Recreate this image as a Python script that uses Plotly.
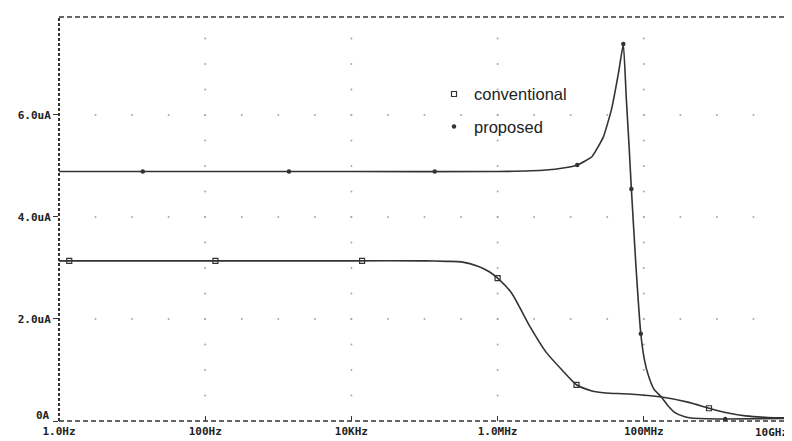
import numpy as np
import plotly.graph_objects as go

# ---- data (frequency in Hz, current in uA) ----
conv_f = [1, 100, 1e4, 1e5, 2e5, 3.2e5, 5.5e5, 7.6e5, 1e6, 1.55e6, 2.8e6, 4.6e6, 7.6e6,
          1.2e7, 1.95e7, 3e7, 6.3e7, 1.75e8, 4e8, 7.8e8, 1.26e9, 2.45e9, 5e9, 1e10]
conv_i = [3.14, 3.14, 3.14, 3.14, 3.13, 3.12, 3.03, 2.93, 2.80, 2.51, 1.84, 1.35, 1.00,
          0.71, 0.59, 0.55, 0.53, 0.47, 0.37, 0.25, 0.17, 0.10, 0.07, 0.06]
conv_mark_f = [1.38, 138, 1.4e4, 1e6, 1.2e7, 7.8e8]
conv_mark_i = [3.14, 3.14, 3.14, 2.80, 0.71, 0.25]

prop_f = [1, 100, 1e4, 1e6, 4.6e6, 7.9e6, 1.23e7, 1.95e7, 2.8e7, 3.6e7, 4.5e7, 5.25e7,
          5.75e7, 6.3e7, 6.76e7, 7.76e7, 9.1e7, 1.02e8, 1.15e8, 1.38e8, 1.74e8, 2.14e8,
          2.7e8, 3.55e8, 4.5e8, 1.3e9, 1e10]
prop_i = [4.89, 4.89, 4.89, 4.89, 4.92, 4.96, 5.02, 5.18, 5.57, 6.10, 6.82, 7.39,
          6.35, 5.37, 4.55, 3.10, 1.71, 1.20, 0.90, 0.62, 0.47, 0.30,
          0.16, 0.09, 0.06, 0.04, 0.05]
prop_mark_f = [14, 1.4e3, 1.38e5, 1.23e7, 5.25e7, 6.76e7, 9.1e7, 1.3e9]
prop_mark_i = [4.89, 4.89, 4.89, 5.02, 7.39, 4.55, 1.71, 0.04]

x_tickvals = [1, 100, 1e4, 1e6, 1e8, 1e10]
x_ticktext = ["1.0Hz", "100Hz", "10KHz", "1.0MHz", "100MHz", ""]
x_last_label = "10GHz"
y_tickvals = [0, 2, 4, 6]
y_ticktext = ["", "2.0uA", "4.0uA", "6.0uA"]
y_zero_label = "0A"

ink = "#333333"
fig = go.Figure()

# dotted grid (PSpice style) built from the tick positions
grid_x_dec = [2, 4, 6, 8]
grid_y_vals = [2, 4, 6]
gx, gy = [], []
for yv in grid_y_vals:
    for d in np.arange(0.5, 10.0, 0.5):
        gx.append(10 ** d); gy.append(yv)
for d in grid_x_dec:
    for yv in np.arange(0.5, 7.9, 0.5):
        gx.append(10 ** d); gy.append(yv)
fig.add_trace(go.Scatter(x=gx, y=gy, mode="markers", showlegend=False, hoverinfo="skip",
                         marker=dict(size=2, color="#a8a8a8")))

fig.add_trace(go.Scatter(x=conv_f, y=conv_i, mode="lines", showlegend=False,
                         line=dict(color=ink, width=1.6, shape="spline", smoothing=0.6)))
fig.add_trace(go.Scatter(x=prop_f, y=prop_i, mode="lines", showlegend=False,
                         line=dict(color=ink, width=1.6, shape="spline", smoothing=0.4)))
fig.add_trace(go.Scatter(x=conv_mark_f, y=conv_mark_i, mode="markers", name="conventional",
                         legendgroup="a",
                         marker=dict(symbol="square-open", size=5, color=ink, line=dict(width=1.2, color=ink))))
fig.add_trace(go.Scatter(x=prop_mark_f, y=prop_mark_i, mode="markers", name="proposed",
                         legendgroup="b",
                         marker=dict(symbol="circle", size=4.5, color=ink)))

tickfont = dict(family="DejaVu Sans Mono", size=11, color="#222222", weight="bold")
fig.update_xaxes(type="log", range=[0, 10], tickvals=x_tickvals, ticktext=x_ticktext,
                 ticks="inside", ticklen=5, tickcolor=ink, tickwidth=1.2,
                 showgrid=False, zeroline=False, showline=False, automargin=False,
                 tickfont=tickfont, ticklabelstandoff=2)
fig.update_yaxes(range=[0, 7.92], tickvals=y_tickvals, ticktext=y_ticktext,
                 ticks="outside", ticklen=5, tickcolor=ink, tickwidth=1.2,
                 showgrid=False, zeroline=False, showline=False, automargin=False,
                 tickfont=tickfont)

# labels placed like PSpice does at the plot corners
fig.add_annotation(text=y_zero_label, xref="paper", x=0, y=0, xanchor="right", yanchor="middle",
                   xshift=-7, yshift=6, showarrow=False, font=tickfont)
fig.add_annotation(text=x_last_label, xref="paper", yref="paper", x=1, y=0,
                   xanchor="right", yanchor="top", xshift=0, yshift=-3,
                   showarrow=False, font=tickfont)

# PSpice-like dashed frame
fig.add_shape(type="line", xref="paper", yref="paper", x0=0, x1=0, y0=0, y1=1,
              line=dict(color=ink, width=2, dash="3px,2px"))
fig.add_shape(type="line", xref="paper", yref="paper", x0=0, x1=1, y0=1, y1=1,
              line=dict(color=ink, width=1.5, dash="5px,3px"))
fig.add_shape(type="line", xref="paper", yref="paper", x0=0, x1=1, y0=0, y1=0,
              line=dict(color=ink, width=1.5, dash="5px,3px"))
fig.add_shape(type="line", xref="paper", yref="paper", x0=1, x1=1, y0=0, y1=1,
              line=dict(color=ink, width=2, dash="4px,2px"))

# page body has an 8px margin: size the figure to fit the 792x441 window
fig.update_layout(
    width=784, height=433,
    margin=dict(l=51, r=2, t=9, b=20, autoexpand=False),
    paper_bgcolor="white", plot_bgcolor="white",
    showlegend=True,
    legend=dict(x=0.513, y=0.852, xanchor="left", yanchor="top",
                bgcolor="rgba(0,0,0,0)", traceorder="grouped", tracegroupgap=8,
                font=dict(family="Liberation Sans", size=16.5, color="#222222"),
                itemwidth=30),
)

fig.write_html("out.html")
